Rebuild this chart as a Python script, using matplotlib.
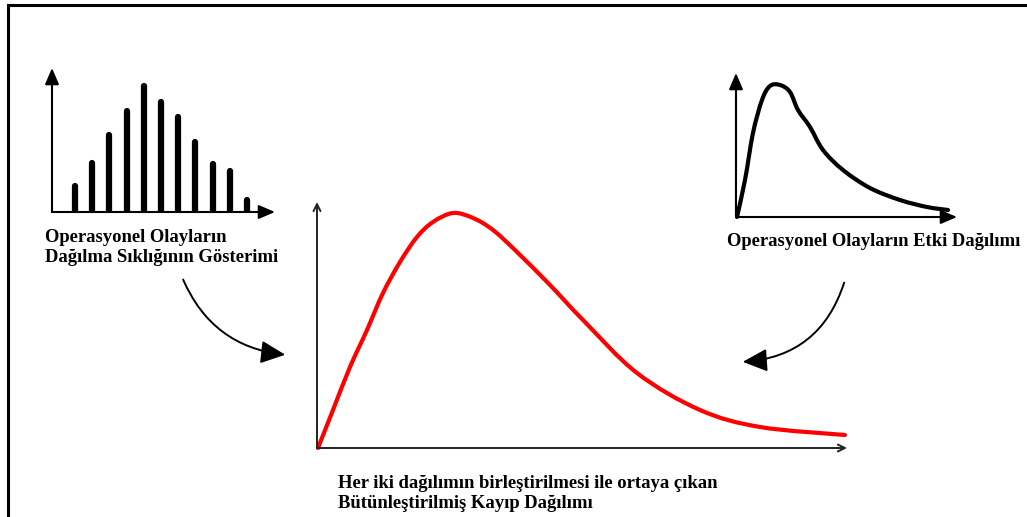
import matplotlib.pyplot as plt
import numpy as np
from matplotlib.patches import FancyArrowPatch, PathPatch
from matplotlib.path import Path

# frequency bars (left small chart)
freq_x = [1, 2, 3, 4, 5, 6, 7, 8, 9, 10, 11]
freq_h = [26, 49, 77, 101, 126, 110, 95, 70, 48, 41, 12]

# severity curve (right small chart)
sev_x = [1, 9, 17, 26, 34, 44, 54, 62, 74, 87, 107, 134, 164, 191, 212]
sev_y = [0, 37, 84, 117, 131, 132, 125, 107, 90, 67, 47, 29, 17, 10, 7]

# aggregate loss curve (main chart)
loss_x = [1, 16, 33, 50, 66, 83, 100, 116, 136, 156, 176, 200, 233, 266, 320, 383, 443, 528]
loss_y = [0, 38, 81, 118, 155, 186, 211, 226, 235, 230, 218, 196, 163, 128, 75, 38, 21, 13]

W, H = 1027, 517
fig = plt.figure(figsize=(W / 100, H / 100), dpi=100)

ax0 = fig.add_axes([0, 0, 1, 1])
ax0.set_xlim(0, W)
ax0.set_ylim(H, 0)
ax0.axis("off")

# frame (left and top edges only)
ax0.plot([8, 8, W], [H, 5, 5], color="black", lw=2.2, solid_joinstyle="miter")


def px_axes(left, top, right, bottom):
    a = fig.add_axes([left / W, 1 - bottom / H, (right - left) / W, (bottom - top) / H])
    a.axis("off")
    a.patch.set_alpha(0)
    return a


def axis_arrows(a, style, lw, ms, color="black"):
    for end in [(1, 0), (0, 1)]:
        a.annotate("", xy=end, xytext=(0, 0), xycoords="axes fraction",
                   arrowprops=dict(arrowstyle=style, lw=lw, color=color,
                                   mutation_scale=ms, shrinkA=0, shrinkB=0))


def smooth_line(a, xs, ys, **kw):
    # draw the read points as a smooth bezier path (catmull-rom)
    p = np.column_stack([xs, ys]).astype(float)
    n = len(p)
    verts = [p[0]]
    codes = [Path.MOVETO]
    for i in range(n - 1):
        p0 = p[i - 1] if i > 0 else p[i]
        p3 = p[i + 2] if i + 2 < n else p[i + 1]
        c1 = p[i] + (p[i + 1] - p0) / 6
        c2 = p[i + 1] - (p3 - p[i]) / 6
        verts += [c1, c2, p[i + 1]]
        codes += [Path.CURVE4] * 3
    patch = PathPatch(Path(verts, codes), fill=False, transform=a.transData,
                      clip_on=False, capstyle="round", joinstyle="round", **kw)
    a.add_patch(patch)


font = dict(family="Liberation Serif", weight="bold", fontsize=13.4, color="black")

# left: frequency
ax1 = px_axes(52, 68, 275, 212)
ax1.set_xlim(-0.337, 12.63)
ax1.set_ylim(0, 144)
bars = ax1.vlines(freq_x, 0, freq_h, colors="black", lw=4.5)
bars.set_capstyle("round")
axis_arrows(ax1, "-|>,head_length=0.7,head_width=0.3", 1.5, 14)
ax0.text(45, 237, "Operasyonel Olayların", va="center", ha="left", **font)
ax0.text(45, 258, "Dağılma Sıklığının Gösterimi", va="center", ha="left", **font)

# right: severity
ax2 = px_axes(736, 73, 957, 217)
ax2.set_xlim(0, 221)
ax2.set_ylim(0, 144)
smooth_line(ax2, sev_x, sev_y, edgecolor="black", lw=3)
axis_arrows(ax2, "-|>,head_length=0.7,head_width=0.3", 1.5, 14)
ax0.text(727, 242, "Operasyonel Olayların Etki Dağılımı", va="center", ha="left", **font)

# main: aggregate loss
ax3 = px_axes(317, 202, 847, 448)
ax3.set_xlim(0, 530)
ax3.set_ylim(0, 246)
smooth_line(ax3, loss_x, loss_y, edgecolor="#ff0000", lw=3)
axis_arrows(ax3, "->,head_length=0.5,head_width=0.25", 1.4, 10, color="#222222")
ax0.text(338, 483, "Her iki dağılımın birleştirilmesi ile ortaya çıkan", va="center", ha="left", **font)
ax0.text(338, 504, "Bütünleştirilmiş Kayıp Dağılımı", va="center", ha="left", **font)

# curved arrows
for (p1, p2, rad) in [((182, 277), (288, 355), 0.3), ((845, 280), (740, 362), -0.35)]:
    ax0.add_patch(FancyArrowPatch(p1, p2, connectionstyle=f"arc3,rad={rad}",
                                  arrowstyle="-|>,head_length=0.75,head_width=0.35",
                                  mutation_scale=20, lw=1.4, color="black"))

fig.savefig("out.png", dpi=100)
